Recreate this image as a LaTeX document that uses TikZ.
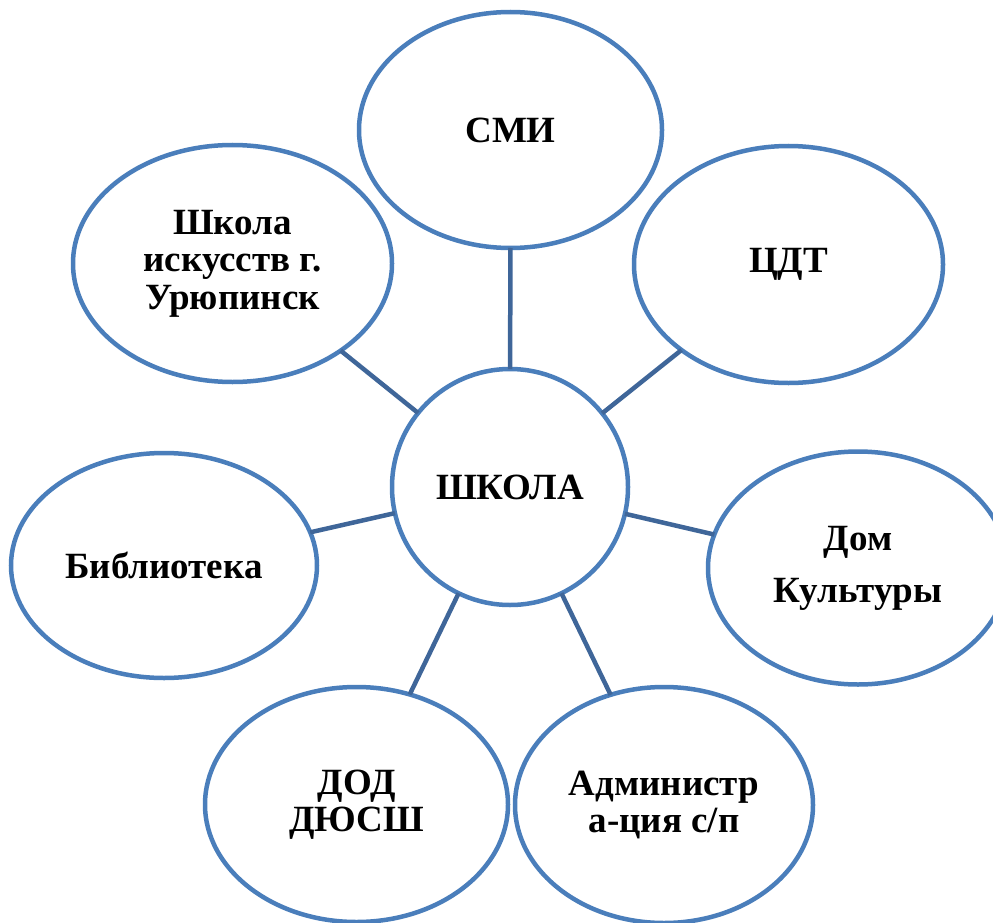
\documentclass[tikz,border=0pt]{standalone}
\usepackage{fontspec}
\setmainfont{Liberation Serif}[BoldFont={Liberation Serif Bold}]
\usetikzlibrary{shapes.geometric}
\definecolor{ringblue}{HTML}{4A7EBB}
\definecolor{linkblue}{HTML}{3F6699}
\begin{document}
\begin{tikzpicture}[x=1pt,y=-1pt,
  bubble/.style={ellipse, draw=ringblue, line width=4.5pt, fill=white, inner sep=0pt, outer sep=0pt, align=center, font=\bfseries\fontsize{37}{37.5}\selectfont},
  link/.style={draw=linkblue, line width=4.5pt}]
\useasboundingbox (0,0) rectangle (993,923);
\clip (0,0) rectangle (993,923);
\node[bubble, minimum width=236, minimum height=236] (school) at (510,487) {ШКОЛА};
\node[bubble, minimum width=303, minimum height=236] (smi) at (510.5,130) {СМИ};
\node[bubble, minimum width=309, minimum height=237] (cdt) at (788.5,264.5) {ЦДТ};
\node[bubble, minimum width=319, minimum height=237] (art) at (232.5,263.5) {Школа\\искусств г.\\Урюпинск};
\node[bubble, minimum width=306, minimum height=225] (lib) at (164,565.5) {Библиотека};
\node[bubble, minimum width=300, minimum height=233] (dk) at (858,568) {Дом\\[14.5pt]Культуры};
\node[bubble, minimum width=303, minimum height=235] (dod) at (356.5,804.5) {ДОД\\ДЮСШ};
\node[bubble, minimum width=298, minimum height=236] (adm) at (664,805) {Администр\\а-ция с/п};
\draw[link] (school) -- (smi);
\draw[link] (school) -- (cdt);
\draw[link] (school) -- (art);
\draw[link] (school) -- (lib);
\draw[link] (school) -- (dk);
\draw[link] (school) -- (dod);
\draw[link] (school) -- (adm);
\end{tikzpicture}
\end{document}
